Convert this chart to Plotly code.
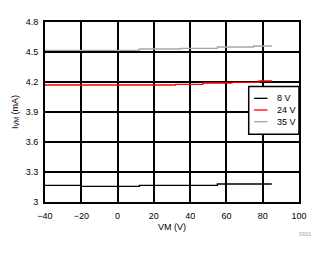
import plotly.graph_objects as go

# Data (VM in V, IVM in mA)
names = ["8 V", "24 V", "35 V"]
colors = ["#000000", "#FF0000", "#A6A6A6"]

vm_8 = [-40, -20, 12, 55, 85]
i_8 = [3.167, 3.157, 3.167, 3.180, 3.180]

vm_24 = [-40, 32, 47, 63, 78, 85]
i_24 = [4.170, 4.177, 4.190, 4.197, 4.210, 4.210]

vm_35 = [-40, 12, 35, 55, 75, 85]
i_35 = [4.516, 4.530, 4.536, 4.550, 4.560, 4.560]

x_ticks = [-40, -20, 0, 20, 40, 60, 80, 100]
y_ticks = [3, 3.3, 3.6, 3.9, 4.2, 4.5, 4.8]
y_ticklabels = ["3", "3.3", "3.6", "3.9", "4.2", "4.5", "4.8"]

FONT = "Liberation Sans, Arial, sans-serif"

fig = go.Figure()
series = [(vm_8, i_8), (vm_24, i_24), (vm_35, i_35)]
for (xs, ys), n, c in zip(series, names, colors):
    fig.add_trace(go.Scatter(x=xs, y=ys, name=n, mode="lines",
                             line=dict(color=c, width=1.3, shape="hv"),
                             showlegend=False))

# custom legend
L = 254
fig.add_shape(type="rect", xref="paper", yref="paper", x0=0.802, x1=1.0, y0=0.376, y1=0.641,
              line=dict(color="black", width=1.5), fillcolor="white", layer="above")
rows = [0.576, 0.511, 0.446]
for n, c, yy in zip(names, colors, rows):
    fig.add_shape(type="line", xref="paper", yref="paper", x0=0.823, x1=0.876, y0=yy, y1=yy,
                  line=dict(color=c, width=1.3), layer="above")
    fig.add_annotation(xref="paper", yref="paper", x=0.905, y=yy, text=n, showarrow=False,
                       xanchor="left", yanchor="middle", font=dict(family=FONT, size=9, color="black"))

fig.add_annotation(xref="paper", yref="paper", x=1.055, y=-0.175, text="D001", showarrow=False,
                   xanchor="right", yanchor="middle", font=dict(family=FONT, size=5, color="#999999"))

fig.update_layout(
    width=328, height=254,
    margin=dict(l=45, r=29, t=22, b=52),
    paper_bgcolor="white", plot_bgcolor="white",
    font=dict(family=FONT, size=9, color="black"),
    xaxis=dict(range=[-40, 100], tickvals=x_ticks, showgrid=True, gridcolor="black", gridwidth=1.6,
               showline=True, linecolor="black", linewidth=2, mirror=True, zeroline=False,
               ticks="", ticklabelstandoff=4,
               title=dict(text="VM (V)", font=dict(family=FONT, size=9), standoff=4)),
    yaxis=dict(range=[3, 4.8], tickvals=y_ticks, ticktext=y_ticklabels, showgrid=True,
               gridcolor="black", gridwidth=1.6,
               showline=True, linecolor="black", linewidth=2, mirror=True, zeroline=False,
               ticks="", ticklabelstandoff=3,
               title=dict(text="I<sub>VM</sub> (mA)", font=dict(family=FONT, size=9), standoff=6)),
)

fig.write_html("out.html")
